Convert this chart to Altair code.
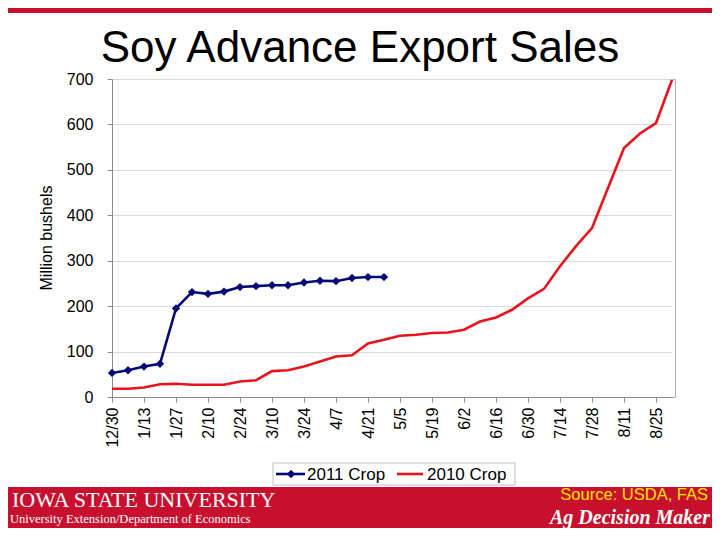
import altair as alt
import pandas as pd

weeks = ["12/30", "1/6", "1/13", "1/20", "1/27", "2/3", "2/10", "2/17", "2/24",
         "3/3", "3/10", "3/17", "3/24", "3/31", "4/7", "4/14", "4/21", "4/28",
         "5/5", "5/12", "5/19", "5/26", "6/2", "6/9", "6/16", "6/23", "6/30",
         "7/7", "7/14", "7/21", "7/28", "8/4", "8/11", "8/18", "8/25", "9/1"]

crop_2011 = [53, 59, 67, 73, 195, 231, 227, 232, 242, 244, 246, 246, 252, 256,
             255, 262, 264, 264]

crop_2010 = [18, 18, 21, 28, 29, 27, 27, 27, 34, 37, 57, 59, 67, 78, 89, 92,
             118, 126, 135, 137, 141, 142, 148, 166, 175, 192, 217, 238, 288,
             332, 372, 460, 548, 580, 603, 698]

tick_labels = weeks[::2]
y_ticks = [0, 100, 200, 300, 400, 500, 600, 700]

NAVY = "#050a78"
RED = "#e8141c"
CARDINAL = "#c8102e"
FONT = "Liberation Sans"
SERIF = "Liberation Serif"

df10 = pd.DataFrame({"week": weeks, "value": crop_2010, "series": "2010 Crop"})
df11 = pd.DataFrame({"week": weeks[:len(crop_2011)], "value": crop_2011,
                     "series": "2011 Crop"})

x_enc = alt.X("week:O", sort=weeks,
              scale=alt.Scale(type="point", padding=0, range=[0, 560]),
              axis=alt.Axis(values=tick_labels, labelAngle=270, labelFontSize=16,
                            labelFont=FONT, labelColor="#000", labelPadding=5,
                            tickSize=5, tickColor="#8c8c8c", domainColor="#8c8c8c",
                            grid=False, title=None))
y_enc = alt.Y("value:Q",
              scale=alt.Scale(domain=[0, 700], nice=False),
              axis=alt.Axis(values=y_ticks, labelFontSize=16, labelFont=FONT,
                            labelColor="#000", labelPadding=14, tickSize=5,
                            tickColor="#8c8c8c", domainColor="#8c8c8c",
                            grid=True, gridColor="#d9d9d9", title=None))

line10 = alt.Chart(df10).mark_line(color=RED, strokeWidth=2.6).encode(x=x_enc, y=y_enc)
line11 = alt.Chart(df11).mark_line(color=NAVY, strokeWidth=2.6).encode(x=x_enc, y=y_enc)
pts11 = alt.Chart(df11).mark_point(shape="diamond", filled=True, color=NAVY,
                                   size=70, opacity=1).encode(x=x_enc, y=y_enc)

one = pd.DataFrame({"k": [0]})
base = alt.Chart(one)

def rect(x1, x2, y1, y2, **kw):
    return base.mark_rect(**kw).encode(x=alt.value(x1), x2=alt.value(x2),
                                       y=alt.value(y1), y2=alt.value(y2))

def text(s, x, y, **kw):
    return base.mark_text(**kw).encode(x=alt.value(x), y=alt.value(y),
                                       text=alt.value(s))

def rule(x1, x2, y, color):
    return base.mark_rule(color=color, strokeWidth=2.6).encode(
        x=alt.value(x1), x2=alt.value(x2), y=alt.value(y))

top_bar = rect(-104, 600, -71, -66, color=CARDINAL)
footer = rect(-104, 600, 408, 449, color=CARDINAL)

title = text("Soy Advance Export Sales", 248, -17, font=FONT, fontSize=44,
             align="center", baseline="alphabetic", color="#000")
ytitle = text("Million bushels", -65, 159, font=FONT, fontSize=16, angle=270,
              align="center", baseline="middle", color="#000")

legend_box = rect(161, 403, 384, 406, fill="white", stroke="#bfbfbf", strokeWidth=1)
leg_l1 = rule(164, 193, 395, NAVY)
leg_p1 = base.mark_point(shape="diamond", filled=True, color=NAVY, size=70,
                         opacity=1).encode(x=alt.value(179), y=alt.value(395))
leg_t1 = text("2011 Crop", 195, 396, font=FONT, fontSize=17, align="left",
              baseline="middle", color="#000")
leg_l2 = rule(285, 311, 395, RED)
leg_t2 = text("2010 Crop", 315, 396, font=FONT, fontSize=17, align="left",
              baseline="middle", color="#000")

isu = text("IOWA STATE UNIVERSITY", -100, 428, font=SERIF, fontSize=22, align="left",
           baseline="alphabetic", color="white")
ext = text("University Extension/Department of Economics", -102, 444, font=SERIF,
           fontSize=12.5, align="left", baseline="alphabetic", color="white")
src = text("Source: USDA, FAS", 596, 421, font=FONT, fontSize=16.5, align="right",
           baseline="alphabetic", color="#ffe600")
adm = text("Ag Decision Maker", 598, 445, font=SERIF, fontSize=20, fontWeight="bold",
           fontStyle="italic", align="right", baseline="alphabetic", color="white")

chart = alt.layer(
    line10, line11, pts11,
    top_bar, footer, title, ytitle,
    legend_box, leg_l1, leg_p1, leg_t1, leg_l2, leg_t2,
    isu, ext, src, adm,
).properties(
    width=563, height=318,
    autosize=alt.AutoSizeParams(type="none"),
    padding={"left": 104, "top": 71, "right": 37, "bottom": 131},
    background="white",
).configure_view(stroke="#b0b0b0")

chart.save("out.html", embed_options={"renderer": "svg", "actions": False})
